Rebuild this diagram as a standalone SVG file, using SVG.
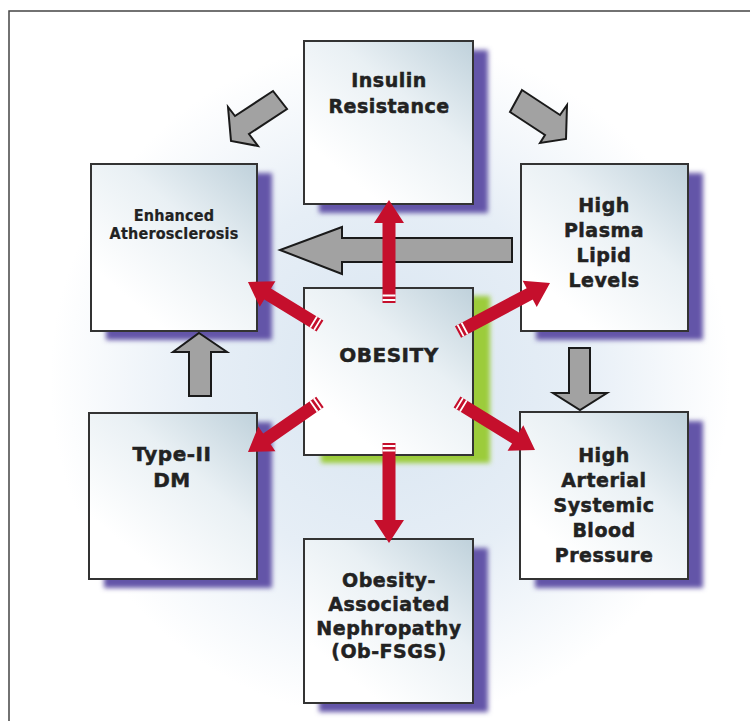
<svg xmlns="http://www.w3.org/2000/svg" width="750" height="721" viewBox="0 0 750 721">
<defs>
<radialGradient id="bg" cx="390" cy="380" r="340" gradientUnits="userSpaceOnUse">
<stop offset="0" stop-color="#d8e5f1"/>
<stop offset="0.55" stop-color="#e6eef6"/>
<stop offset="1" stop-color="#ffffff"/>
</radialGradient>
<linearGradient id="boxfill" x1="1" y1="0" x2="0.15" y2="1">
<stop offset="0" stop-color="#bfd1db"/>
<stop offset="0.4" stop-color="#e9f0f4"/>
<stop offset="0.85" stop-color="#ffffff"/>
</linearGradient>
<filter id="blur" x="-20%" y="-20%" width="140%" height="140%">
<feGaussianBlur stdDeviation="2.5"/>
</filter>
<style>
.shadow{fill:#6355a8;filter:url(#blur);}
.gshadow{fill:#9ccc3a;filter:url(#blur);}
.box{fill:url(#boxfill);stroke:#333;stroke-width:2;}
.lbl{font-family:"DejaVu Sans","Verdana",sans-serif;font-weight:bold;font-size:19px;letter-spacing:0.5px;fill:#222;stroke:#222;stroke-width:0.5;text-anchor:middle;}
.sm{font-family:"DejaVu Sans Condensed","DejaVu Sans",sans-serif;font-size:16px;letter-spacing:0.2px;stroke-width:0.2;}
.gray{fill:#a2a2a2;stroke:#1a1a1a;stroke-width:2;stroke-linejoin:miter;}
.red{fill:#c50f2c;}
.stripe{stroke:#ffffff;stroke-width:1.8;}
</style>
</defs>
<rect x="0" y="0" width="750" height="721" fill="#ffffff"/>
<ellipse cx="390" cy="380" rx="340" ry="340" fill="url(#bg)"/>
<path d="M9,721 V11 H750" fill="none" stroke="#444" stroke-width="1.5"/>

<g id="insulin-resistance">
<rect class="shadow" x="319" y="50" width="169" height="163"/>
<rect class="box" x="304" y="41" width="169" height="163"/>
<text class="lbl" x="389" y="87">Insulin</text>
<text class="lbl" x="389" y="113">Resistance</text>
</g>
<g id="enhanced-atherosclerosis">
<rect class="shadow" x="106" y="173" width="166" height="167"/>
<rect class="box" x="91" y="164" width="166" height="167"/>
<text class="lbl sm" x="174" y="221">Enhanced</text>
<text class="lbl sm" x="174" y="239">Atherosclerosis</text>
</g>
<g id="high-plasma-lipid-levels">
<rect class="shadow" x="536" y="173" width="167" height="167"/>
<rect class="box" x="521" y="164" width="167" height="167"/>
<text class="lbl" x="604" y="212">High</text>
<text class="lbl" x="604" y="237">Plasma</text>
<text class="lbl" x="604" y="262">Lipid</text>
<text class="lbl" x="604" y="287">Levels</text>
</g>
<g id="obesity">
<rect class="gshadow" x="321" y="296" width="169" height="167"/>
<rect class="box" x="304" y="288" width="169" height="167"/>
<text class="lbl" x="389" y="362" style="font-size:20px">OBESITY</text>
</g>
<g id="type-ii-dm">
<rect class="shadow" x="104" y="422" width="168" height="166"/>
<rect class="box" x="89" y="413" width="168" height="166"/>
<text class="lbl" x="172" y="461" style="font-size:20px">Type-II</text>
<text class="lbl" x="172" y="487" style="font-size:20px">DM</text>
</g>
<g id="high-arterial-pressure">
<rect class="shadow" x="535" y="421" width="168" height="167"/>
<rect class="box" x="520" y="412" width="168" height="167"/>
<text class="lbl" x="604" y="462">High</text>
<text class="lbl" x="604" y="487">Arterial</text>
<text class="lbl" x="604" y="512">Systemic</text>
<text class="lbl" x="604" y="537">Blood</text>
<text class="lbl" x="604" y="562">Pressure</text>
</g>
<g id="obesity-nephropathy">
<rect class="shadow" x="319" y="548" width="169" height="164"/>
<rect class="box" x="304" y="539" width="169" height="164"/>
<text class="lbl" x="389" y="587">Obesity-</text>
<text class="lbl" x="389" y="611">Associated</text>
<text class="lbl" x="389" y="635">Nephropathy</text>
<text class="lbl" x="389" y="658">(Ob-FSGS)</text>
</g>

<g id="connectors">
<polygon class="gray" points="273,91 235,116 228,107 231,141 258,146 249,134 287,109"/>
<polygon class="gray" points="522,90 560,115 567,105 566,139 540,143 545,135 510,112"/>
<polygon class="gray" points="512,238 342,238 342,227 280,250 342,274 342,262 512,262"/>
<polygon class="gray" points="569,348 590,348 590,393 607,393 580,410 553,393 569,393"/>
<polygon class="gray" points="199,333 227,352 211,352 211,396 189,396 189,352 173,352"/>

<g transform="translate(389,303) rotate(-90)">
<path class="red" d="M0,-6.5 H80 V-15 L103,0 L80,15 V6.5 H0 Z"/>
<path class="stripe" d="M3,-6.5 V6.5 M7.5,-6.5 V6.5"/>
</g>
<g transform="translate(389,443) rotate(90)">
<path class="red" d="M0,-6.5 H77 V-15 L100,0 L77,15 V6.5 H0 Z"/>
<path class="stripe" d="M3,-6.5 V6.5 M7.5,-6.5 V6.5"/>
</g>
<g transform="translate(320,326) rotate(-148.6)">
<path class="red" d="M0,-6.5 H61.4 V-15 L84.4,0 L61.4,15 V6.5 H0 Z"/>
<path class="stripe" d="M3,-6.5 V6.5 M7.5,-6.5 V6.5"/>
</g>
<g transform="translate(458,332) rotate(-28)">
<path class="red" d="M0,-6.5 H81.2 V-15 L104.2,0 L81.2,15 V6.5 H0 Z"/>
<path class="stripe" d="M3,-6.5 V6.5 M7.5,-6.5 V6.5"/>
</g>
<g transform="translate(320,402) rotate(145.2)">
<path class="red" d="M0,-6.5 H64.7 V-15 L87.7,0 L64.7,15 V6.5 H0 Z"/>
<path class="stripe" d="M3,-6.5 V6.5 M7.5,-6.5 V6.5"/>
</g>
<g transform="translate(457,402) rotate(31.6)">
<path class="red" d="M0,-6.5 H68.6 V-15 L91.6,0 L68.6,15 V6.5 H0 Z"/>
<path class="stripe" d="M3,-6.5 V6.5 M7.5,-6.5 V6.5"/>
</g>
</g>
</svg>
